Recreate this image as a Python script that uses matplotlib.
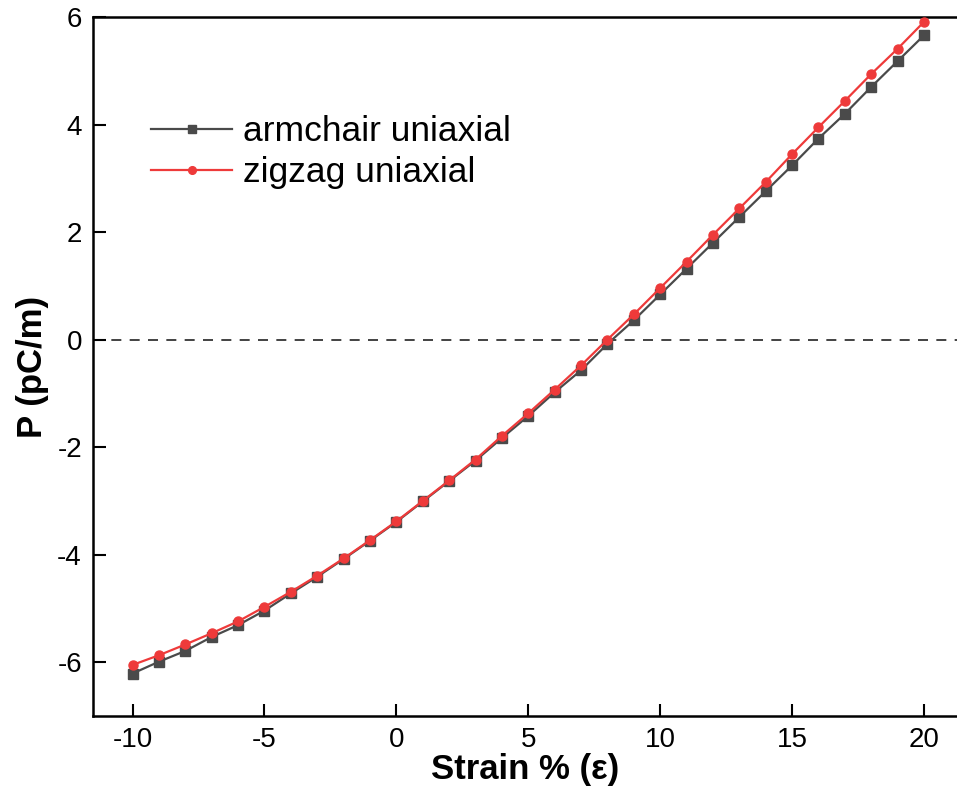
import matplotlib
matplotlib.use("Agg")
import matplotlib.pyplot as plt

plt.rcParams['font.family'] = ['Liberation Sans', 'DejaVu Sans']

strain = list(range(-10, 21))
armchair = [-6.21, -5.99, -5.79, -5.53, -5.31, -5.04, -4.72, -4.41, -4.08, -3.74,
            -3.39, -3.01, -2.63, -2.25, -1.83, -1.42, -0.98, -0.57, -0.08, 0.36,
            0.84, 1.32, 1.80, 2.28, 2.76, 3.24, 3.74, 4.20, 4.70, 5.18, 5.66]
zigzag = [-6.05, -5.87, -5.67, -5.46, -5.24, -4.97, -4.69, -4.39, -4.07, -3.73,
          -3.38, -3.00, -2.62, -2.23, -1.79, -1.37, -0.93, -0.48, 0.00, 0.47,
          0.96, 1.45, 1.95, 2.44, 2.93, 3.45, 3.95, 4.44, 4.94, 5.41, 5.91]

xticks = [-10, -5, 0, 5, 10, 15, 20]
yticks = [-6, -4, -2, 0, 2, 4, 6]

fig = plt.figure(figsize=(9.57, 8.09), dpi=100)
ax = fig.add_axes([93/957, 93/809, 1 - 93/957, (716-17)/809])

ax.axhline(0, color='#222222', lw=1.2, ls=(0, (6, 5)), zorder=1)
ax.plot(strain, armchair, color='#4a4a4a', lw=1.6, marker='s', ms=6.5,
        label='armchair uniaxial', zorder=2)
ax.plot(strain, zigzag, color='#ee3a3a', lw=1.6, marker='o', ms=6.5,
        label='zigzag uniaxial', zorder=3)

ax.set_xlim(-11.5, 21.25)
ax.set_ylim(-7, 6)
ax.set_xticks(xticks)
ax.set_yticks(yticks)
ax.set_xticklabels([str(t) for t in xticks])
ax.set_yticklabels([str(t) for t in yticks])
ax.tick_params(direction='in', length=9, width=1.5, labelsize=20, pad=8)
for s in ['left', 'bottom', 'top']:
    ax.spines[s].set_linewidth(1.8)
ax.spines['right'].set_visible(False)

ax.set_xlabel('Strain % (ε)', fontsize=25, fontweight='bold', labelpad=0)
ax.set_ylabel('P (pC/m)', fontsize=25, fontweight='bold', labelpad=6)

leg = ax.legend(loc='upper left', bbox_to_anchor=(0.03, 0.905), frameon=False,
                fontsize=25.5, handlelength=2.3, handletextpad=0.3,
                labelspacing=0.22, markerscale=0.85)

fig.savefig('out.png', dpi=100)
